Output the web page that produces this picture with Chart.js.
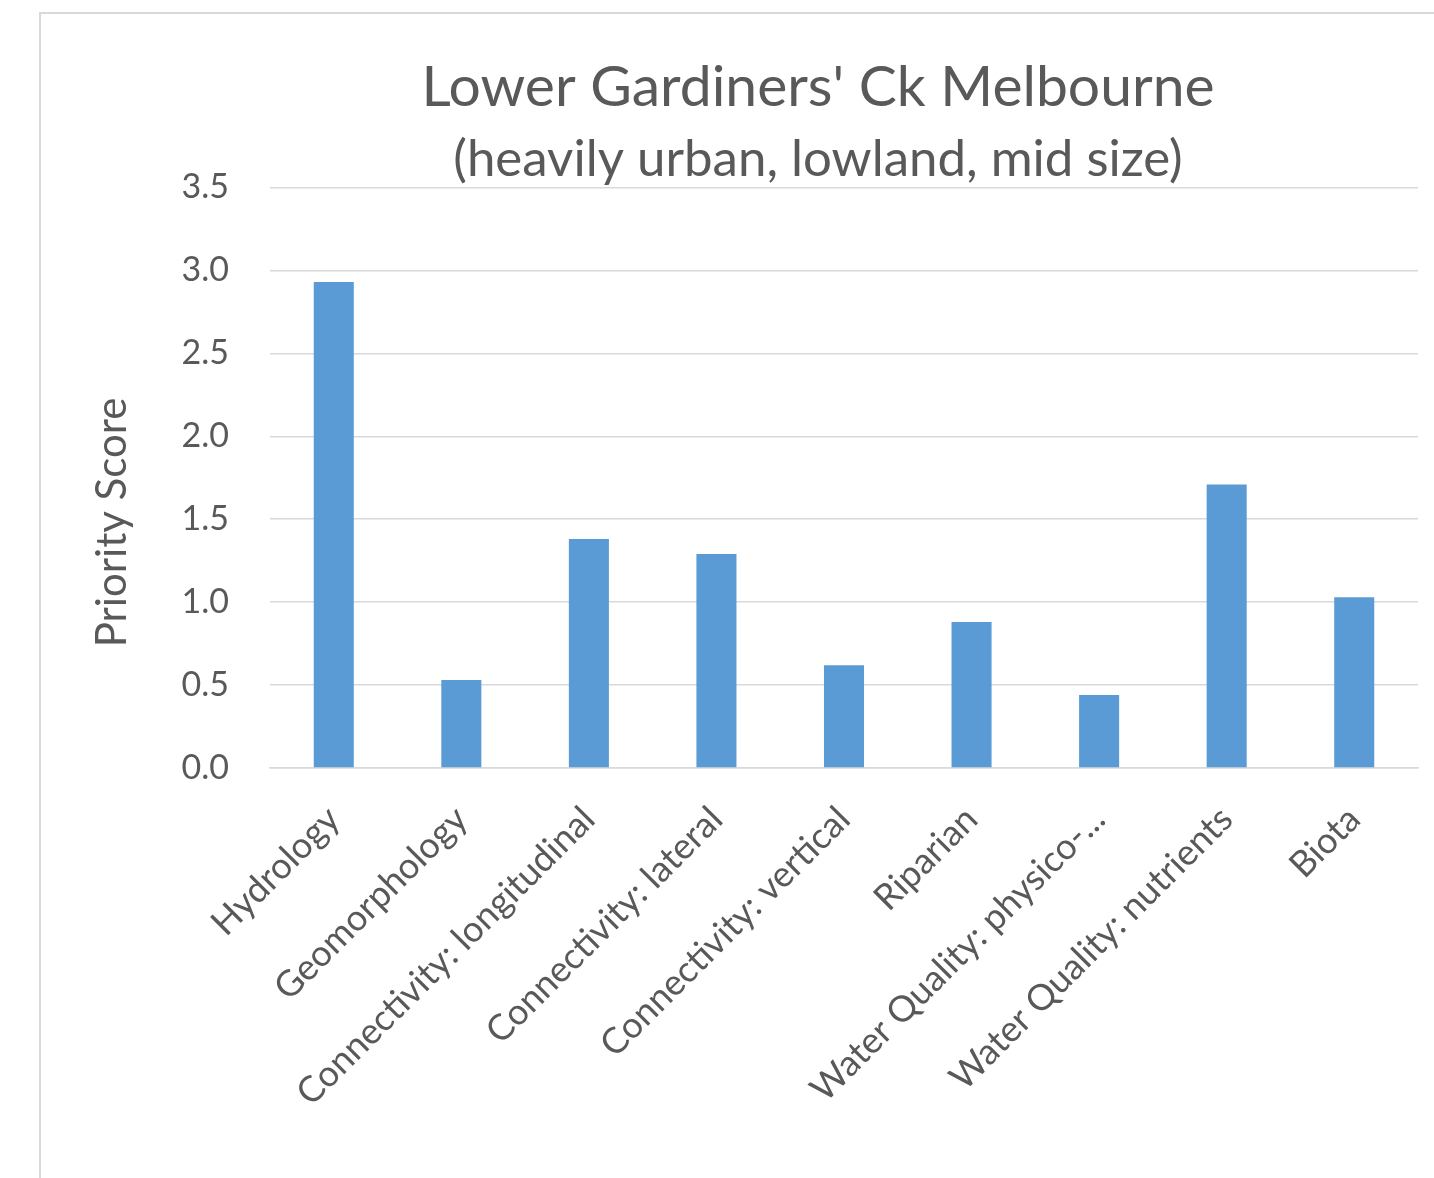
<!DOCTYPE html>
<html>
<head>
<meta charset="utf-8">
<script src="https://cdn.jsdelivr.net/npm/chart.js@4.4.1/dist/chart.umd.min.js"></script>
<style>
  html, body { margin: 0; padding: 0; background: #ffffff; overflow: hidden; }
  body { width: 1434px; height: 1178px; position: relative; }
  #frame {
    position: absolute; left: 39px; top: 12px;
    width: 1600px; height: 1200px;
    border-left: 2px solid #d9d9d9; border-top: 2px solid #d9d9d9;
    background: #ffffff;
  }
  #wrap { position: absolute; left: 41px; top: 14px; width: 1554px; height: 1164px; }
</style>
</head>
<body>
<div id="frame"></div>
<div id="wrap"><canvas id="chart"></canvas></div>
<script>
// Priority scores for the river-health components
const categories = [
  "Hydrology",
  "Geomorphology",
  "Connectivity: longitudinal",
  "Connectivity: lateral",
  "Connectivity: vertical",
  "Riparian",
  "Water Quality: physico-...",
  "Water Quality: nutrients",
  "Biota"
];
const priorityScores = [2.93, 0.53, 1.38, 1.29, 0.62, 0.88, 0.44, 1.71, 1.03];
const yTicks = [0, 0.5, 1.0, 1.5, 2.0, 2.5, 3.0, 3.5];

const chartTitle = "Lower Gardiners' Ck Melbourne";
const chartSubtitle = "(heavily urban, lowland, mid size)";
const yAxisTitle = "Priority Score";

const FONT = "Lato, 'Open Sans', sans-serif";
const TEXT = "#595959";
const GRID = "#d9d9d9";

// Vertical axis title, drawn a little below the middle of the plot height
const yTitlePlugin = {
  id: "yTitle",
  afterDraw(chart) {
    const { ctx, chartArea } = chart;
    const cy = chartArea.top + (chartArea.bottom - chartArea.top) * 0.577;
    ctx.save();
    ctx.translate(71, cy);
    ctx.rotate(-Math.PI / 2);
    ctx.fillStyle = TEXT;
    ctx.font = "42px " + FONT;
    ctx.textAlign = "center";
    ctx.textBaseline = "middle";
    ctx.fillText(yAxisTitle, 0, 0);
    ctx.restore();
  }
};

new Chart(document.getElementById("chart"), {
  type: "bar",
  data: {
    labels: categories,
    datasets: [{
      label: yAxisTitle,
      data: priorityScores,
      backgroundColor: "#5b9bd5",
      borderWidth: 0,
      categoryPercentage: 1.0,
      barPercentage: 0.314
    }]
  },
  options: {
    responsive: true,
    maintainAspectRatio: false,
    animation: false,
    layout: { padding: 0 },
    plugins: {
      legend: { display: false },
      tooltip: { enabled: false },
      title: {
        display: true,
        text: chartTitle,
        color: TEXT,
        font: { family: FONT, size: 57, weight: "normal", lineHeight: 1.2 },
        padding: { top: 39, bottom: 0 }
      },
      subtitle: {
        display: true,
        text: chartSubtitle,
        color: TEXT,
        font: { family: FONT, size: 51, weight: "normal", lineHeight: 1.1 },
        padding: { top: 10, bottom: 0 }
      }
    },
    scales: {
      x: {
        grid: { display: false },
        border: { display: true, color: GRID, width: 1.5 },
        ticks: {
          color: TEXT,
          font: { family: FONT, size: 36 },
          maxRotation: 45,
          minRotation: 45,
          autoSkip: false,
          padding: 22
        },
        afterFit: (s) => { s.height = 410; }
      },
      y: {
        min: 0,
        max: 3.5,
        afterBuildTicks: (s) => { s.ticks = yTicks.map(v => ({ value: v })); },
        grid: { color: GRID, lineWidth: 1.5, drawTicks: false },
        border: { display: false },
        ticks: {
          color: TEXT,
          font: { family: FONT, size: 34 },
          padding: 41,
          callback: (v) => Number(v).toFixed(1)
        },
        afterFit: (s) => { s.width = 229; }
      },
      rightGap: {
        type: "linear",
        position: "right",
        display: true,
        grid: { display: false },
        border: { display: false },
        ticks: { display: false },
        afterFit: (s) => { s.width = 177; }
      }
    }
  },
  plugins: [yTitlePlugin]
});
</script>
</body>
</html>
